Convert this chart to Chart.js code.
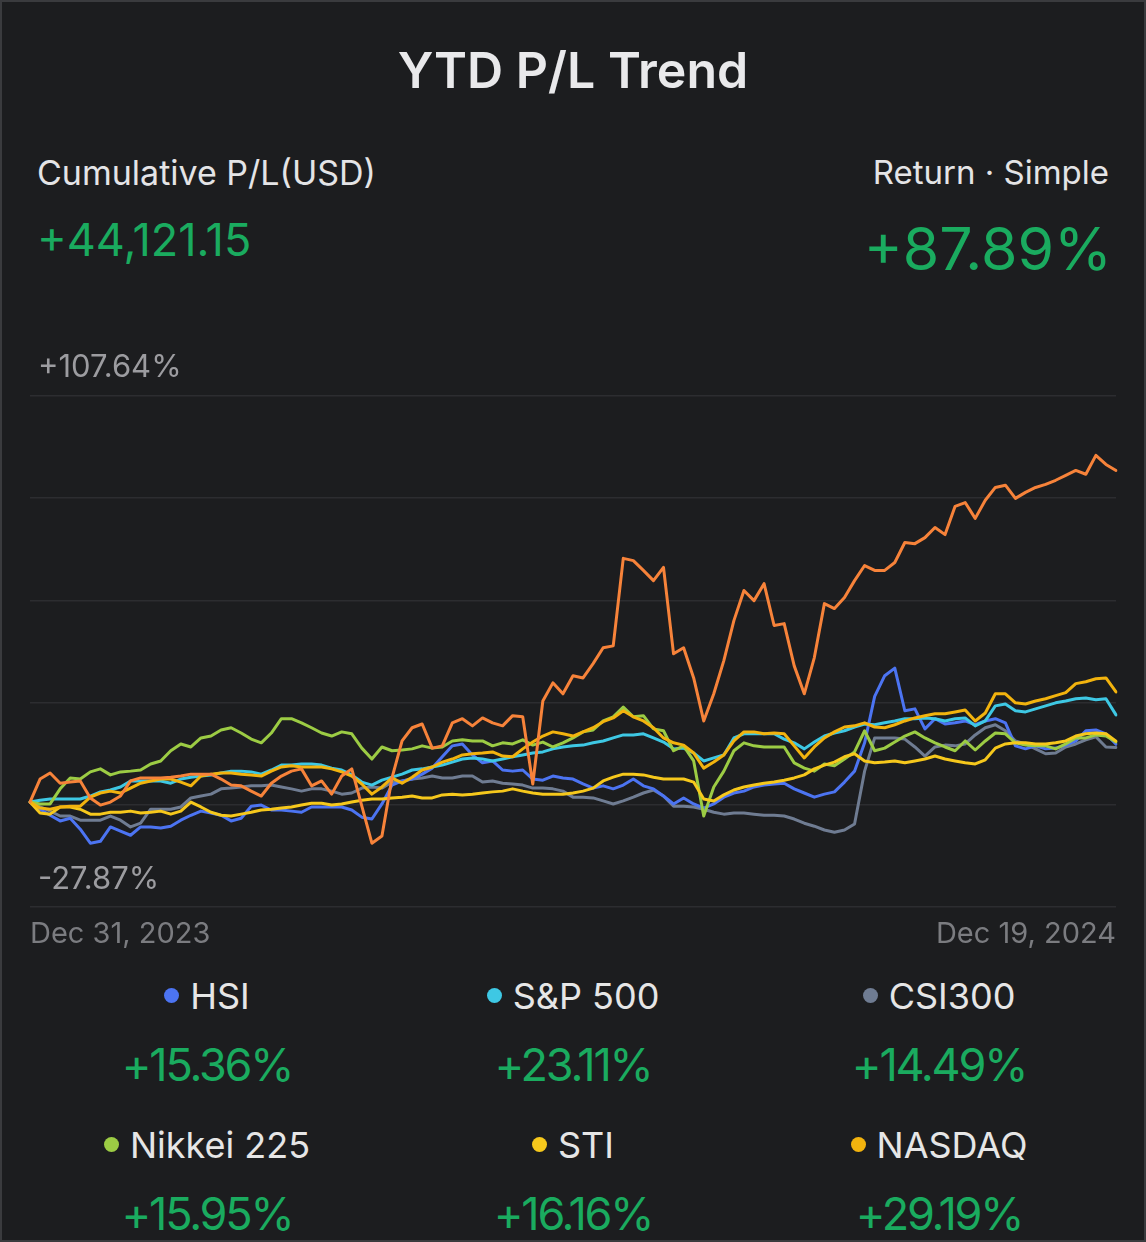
<!DOCTYPE html>
<html>
<head>
<meta charset="utf-8">
<title>YTD P/L Trend</title>
<script src="https://cdn.jsdelivr.net/npm/chart.js@4.4.1/dist/chart.umd.min.js"></script>
<style>
html,body{margin:0;padding:0;background:#1c1d1f;}
body{width:1146px;height:1242px;position:relative;overflow:hidden;font-family:Inter,"Open Sans",sans-serif;}
#frame{position:absolute;left:0;top:0;right:0;bottom:0;border:2px solid #3a3b3e;pointer-events:none;}
#title{position:absolute;left:0;top:40px;width:1146px;text-align:center;font-size:50px;font-weight:600;color:#e9e9eb;}
.lbl{position:absolute;top:152px;font-size:34px;color:#e4e4e6;}
#plLabel{left:37px;}
#retLabel{right:37px;font-size:33px;}
#plValue{position:absolute;left:37px;top:212px;font-size:45px;color:#1aab5f;}
#retValue{position:absolute;right:34px;top:213px;font-size:59px;color:#1aab5f;}
#chartBox{position:absolute;left:14px;top:340px;width:1104px;height:620px;}
#legend{position:absolute;left:24px;top:965px;width:1098px;display:grid;grid-template-columns:1fr 1fr 1fr;}
.item{height:149px;text-align:center;}
.name{height:62px;line-height:62px;font-size:36px;color:#e6e6e6;}
.dot{display:inline-block;width:15px;height:15px;border-radius:50%;margin-right:11px;vertical-align:middle;position:relative;top:-4px;}
.val{height:76px;line-height:76px;font-size:45px;letter-spacing:-2.2px;color:#1aab5f;}
</style>
</head>
<body>
<div id="title">YTD P/L Trend</div>
<div class="lbl" id="plLabel">Cumulative P/L(USD)</div>
<div class="lbl" id="retLabel">Return · Simple</div>
<div id="plValue">+44,121.15</div>
<div id="retValue">+87.89%</div>
<div id="chartBox"><canvas id="trend"></canvas></div>
<div id="legend"></div>
<div id="frame"></div>
<script>
// dates on the x axis (first and last shown)
var startDate=new Date(2023,11,31);
var endDate=new Date(2024,11,19);
var pointCount=109;
var xTickLabels=["Dec 31, 2023","Dec 19, 2024"];

// y axis gridlines, only top and bottom are labelled
var yTicks=[-27.87,-0.768,26.334,53.436,80.538,107.64];
var yTickLabels=["-27.87%","+107.64%"];

// cumulative return in %
var portfolio=[0,6.1,7.7,5.0,5.3,5.6,1.1,-0.8,0,1.6,
5.6,6.4,6.4,6.4,6.6,6.9,7.4,7.4,7.4,6.1,
4.5,4.3,2.9,1.6,5.0,6.9,8.2,8.8,4.3,5.6,
2.1,6.9,8.8,-1.1,-10.9,-9.0,6.4,16.2,19.7,20.7,
14.3,14.9,21.0,22.1,20.2,22.3,21.0,20.2,22.9,22.6,
4.8,26.8,31.6,28.7,33.5,32.9,36.7,40.9,41.4,64.6,
64.0,61.4,58.7,62.2,39.3,40.9,32.9,21.5,28.7,37.5,
48.1,56.1,53.4,57.9,46.8,47.3,36.1,28.7,38.3,52.6,
51.3,54.2,58.7,62.7,61.4,61.4,63.5,68.8,68.5,70.1,
72.8,70.9,78.4,79.4,75.2,80.0,83.4,84.0,80.5,82.1,
83.4,84.2,85.3,86.6,87.9,86.9,91.9,89.5,87.89];

var hsi=[0,-1.9,-3.5,-5.0,-4.3,-7.2,-10.9,-10.4,-6.6,-7.7,
-8.8,-6.6,-6.6,-6.9,-6.4,-4.8,-3.5,-2.4,-2.9,-3.5,
-5.0,-4.3,-1.1,-0.8,-2.1,-2.1,-2.4,-2.7,-1.3,-1.3,
-1.3,-1.3,-2.1,-4.0,-4.5,-0.5,4.5,5.6,6.1,7.4,
9.0,12.0,14.9,15.4,12.5,10.4,10.9,8.5,8.2,8.5,
6.1,5.8,6.9,6.4,6.1,4.8,3.7,4.3,3.5,4.5,
6.1,4.3,3.5,1.6,-0.5,1.1,-0.5,-1.6,-0.5,1.3,
2.4,2.9,4.0,4.5,4.8,5.0,3.5,2.4,1.3,2.1,
2.7,5.3,8.2,15.7,28.0,33.5,35.5,24.2,24.7,19.4,
22.1,20.7,21.0,21.5,20.5,21.5,22.1,21.0,14.9,14.1,
14.9,14.1,14.3,15.1,16.2,18.9,19.1,18.1,15.36];

var sp500=[0,0.5,0.8,0.8,0.8,0.8,1.6,2.7,3.2,4.0,
5.6,5.6,5.6,5.6,5.0,6.1,6.6,6.9,7.2,7.7,
8.2,8.2,8.0,7.4,8.5,9.8,9.8,10.1,10.1,9.8,
9.0,8.5,7.2,5.3,4.5,5.8,6.6,7.4,8.5,8.8,
9.3,9.8,10.6,11.4,11.7,11.4,10.9,11.4,12.0,12.5,
13.0,13.3,14.1,14.6,14.9,15.1,15.7,16.2,17.0,17.8,
17.8,18.1,17.0,15.9,14.1,14.3,13.0,10.9,11.7,12.5,
17.0,18.1,18.1,18.1,18.1,16.7,15.7,14.1,15.9,17.5,
18.3,18.9,19.9,20.7,20.5,21.0,21.5,22.1,22.1,22.3,
22.1,21.5,22.1,22.3,20.2,21.5,25.5,26.0,24.2,23.9,
24.7,25.5,26.3,26.8,27.4,27.6,27.1,27.4,23.11];

var csi300=[0,-1.3,-2.4,-3.7,-3.7,-4.8,-4.8,-4.8,-3.7,-4.8,
-6.6,-5.6,-1.9,-1.9,-1.9,-1.3,1.1,1.6,2.1,3.5,
3.7,4.0,4.3,4.3,4.5,4.0,3.5,2.9,3.5,3.5,
2.9,2.1,2.4,3.7,4.0,3.7,5.3,5.6,6.1,6.4,
6.9,6.4,6.4,6.9,6.9,5.3,5.6,5.0,4.8,4.5,
3.7,3.7,3.5,2.9,1.3,1.3,1.1,0.3,-0.5,0.3,
1.3,2.4,3.2,1.6,-1.1,-1.1,-1.3,-1.9,-2.7,-3.2,
-2.9,-2.9,-3.2,-3.5,-3.5,-3.7,-4.5,-5.6,-6.4,-7.4,
-8.0,-7.4,-5.8,8.2,17.0,17.0,17.0,16.7,14.6,12.2,
14.6,15.1,14.9,15.4,17.8,19.7,20.5,18.9,16.2,15.4,
14.1,12.8,13.0,14.6,15.4,16.5,17.3,14.6,14.49];

var nikkei=[0,-0.5,-0.5,3.5,6.4,6.1,8.0,8.8,7.2,8.0,
8.2,8.5,10.1,10.9,13.6,15.4,14.6,17.0,17.5,19.1,
19.7,18.3,16.7,15.7,18.3,22.1,22.1,21.0,19.7,18.3,
17.5,18.6,18.1,14.3,11.4,14.6,13.6,13.8,14.1,14.9,
14.3,14.6,16.2,16.5,16.2,16.2,14.9,15.7,15.4,16.5,
15.1,15.9,14.6,15.7,17.0,18.6,19.1,21.5,22.6,25.2,
22.6,22.9,19.4,18.9,13.6,14.9,10.9,-3.7,4.0,8.2,
13.6,15.7,14.9,14.6,14.6,14.6,10.4,9.0,8.2,10.1,
9.6,11.4,13.3,18.9,13.6,14.3,15.9,17.5,18.6,17.0,
15.7,14.6,13.6,16.2,13.8,16.2,18.3,18.1,15.7,15.1,
14.9,14.9,14.1,15.4,17.0,17.0,17.8,17.5,15.95];

var sti=[0,-2.9,-3.2,-1.3,-1.3,-1.9,-3.2,-3.2,-2.7,-2.7,
-2.4,-2.9,-2.7,-2.4,-3.2,-2.4,0,-1.3,-2.7,-3.5,
-3.7,-3.2,-2.7,-2.1,-1.9,-1.6,-1.3,-0.8,-0.3,-0.3,
-0.8,-0.5,0,0.5,0.8,0.8,1.1,1.3,1.6,1.1,
1.1,1.9,2.1,1.9,2.1,2.4,2.7,2.9,3.5,2.9,
2.4,2.1,2.1,2.1,2.4,2.9,3.7,5.6,6.6,7.4,
7.4,7.2,6.6,6.1,6.1,6.1,5.3,0.8,0.3,1.9,
3.2,4.0,4.5,5.0,5.3,5.8,6.4,7.2,8.8,9.8,
10.6,12.0,12.8,10.9,10.4,10.6,10.9,10.4,10.9,11.4,
12.2,11.4,10.9,10.4,10.1,11.2,14.3,15.4,15.7,15.7,
15.4,15.4,15.7,16.2,17.5,18.1,18.3,18.1,16.16];

var nasdaq=[0,-1.6,-1.9,-1.3,-1.1,-1.1,1.3,2.4,2.9,2.4,
3.7,5.0,5.6,6.1,6.1,5.3,4.3,6.9,7.4,7.7,
7.7,7.4,7.2,6.9,8.2,9.3,9.6,9.3,9.3,9.3,
8.8,8.0,6.9,4.8,2.1,4.0,6.4,5.0,6.6,8.5,
9.3,10.6,11.4,12.5,12.8,13.0,13.3,12.2,12.0,14.1,
15.9,17.5,18.6,18.1,17.5,18.6,19.7,21.3,22.3,24.2,
22.6,21.5,19.7,17.0,15.7,15.1,13.0,9.0,10.6,12.5,
16.2,18.6,18.6,18.1,18.3,18.1,14.9,11.7,14.6,17.0,
18.6,19.9,20.2,21.0,19.9,19.7,20.5,21.5,22.3,22.9,
23.4,23.4,23.9,24.4,21.5,23.6,28.7,28.7,26.3,26.0,
26.8,27.4,28.2,29.0,31.4,31.9,32.7,32.9,29.19];

// legend
var indexNames=["HSI","S&P 500","CSI300","Nikkei 225","STI","NASDAQ"];
var indexColors=["#4c74f2","#3ec8e4","#6f7c92","#9ccc44","#f6c81c","#f2b30e"];
var indexReturns=["+15.36%","+23.11%","+14.49%","+15.95%","+16.16%","+29.19%"];
var indexSeries=[hsi,sp500,csi300,nikkei,sti,nasdaq];
var portfolioColor="#f7833a";

// category labels
var labels=[];
var span=(endDate-startDate)/(pointCount-1);
for(var i=0;i<pointCount;i++){
    var d=new Date(startDate.getTime()+span*i);
    labels.push(d.toLocaleDateString("en-US",{month:"short",day:"numeric",year:"numeric"}));
}

// legend html
var legendHtml="";
for(var j=0;j<indexNames.length;j++){
    legendHtml+='<div class="item"><div class="name"><span class="dot" style="background:'+indexColors[j]+'"></span>'+indexNames[j].replace("&","&amp;")+'</div><div class="val">'+indexReturns[j]+'</div></div>';
}
document.getElementById("legend").innerHTML=legendHtml;

// datasets, first one is drawn on top
var drawOrder=[5,4,3,1,0,2];
var datasets=[{label:"Portfolio",data:portfolio,borderColor:portfolioColor}];
for(var k=0;k<drawOrder.length;k++){
    var n=drawOrder[k];
    datasets.push({label:indexNames[n],data:indexSeries[n],borderColor:indexColors[n]});
}

new Chart(document.getElementById("trend"),{
    type:'line',
    data:{labels:labels,datasets:datasets},
    options:{
        responsive:true,
        maintainAspectRatio:false,
        animation:false,
        layout:{padding:{top:56,bottom:6,left:0,right:0}},
        plugins:{legend:{display:false},tooltip:{enabled:false}},
        elements:{
            point:{radius:0},
            line:{borderWidth:3,tension:0,borderJoinStyle:'round',borderCapStyle:'round',fill:false}
        },
        scales:{
            x:{
                grid:{display:false},
                border:{display:false},
                ticks:{
                    autoSkip:false,maxRotation:0,align:'inner',padding:2,
                    color:'#7b7c80',font:{family:'Inter',size:29},
                    callback:function(v,i){
                        if(i===0) return xTickLabels[0];
                        if(i===pointCount-1) return xTickLabels[1];
                        return null;
                    }
                }
            },
            y:{
                min:yTicks[0],
                max:yTicks[yTicks.length-1],
                afterBuildTicks:function(axis){
                    axis.ticks=yTicks.map(function(v){return {value:v};});
                },
                grid:{color:'#2c2d30',lineWidth:1.5,drawTicks:false},
                border:{display:false},
                ticks:{
                    mirror:true,padding:8,labelOffset:-28,
                    color:'#9c9ca0',font:{family:'Inter',size:31},
                    callback:function(v,i){
                        if(i===0) return yTickLabels[0];
                        if(i===yTicks.length-1) return yTickLabels[1];
                        return '';
                    }
                }
            }
        }
    }
});
</script>
</body>
</html>
